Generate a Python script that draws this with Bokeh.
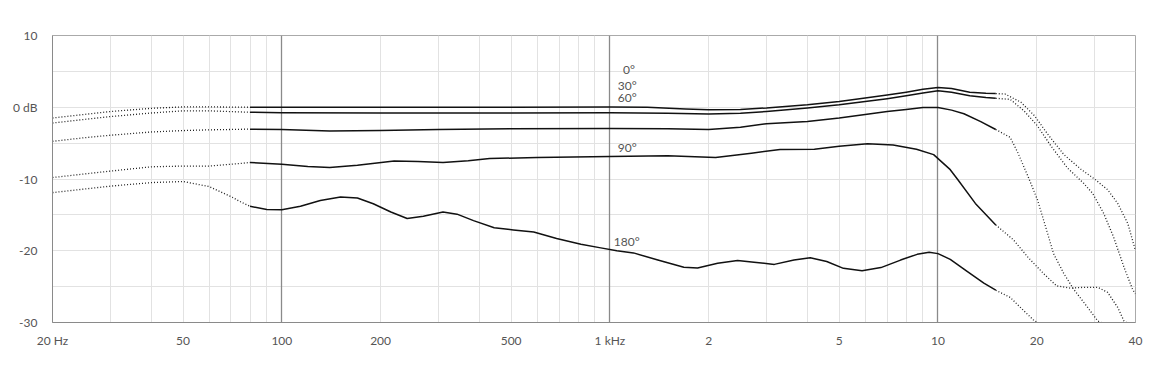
import json
from bokeh.plotting import figure
from bokeh.models import Range1d, FixedTicker, CustomJSTickFormatter, Grid
from bokeh.core.properties import value
from bokeh.embed import file_html
from bokeh.resources import INLINE

# ---------------- data ----------------
x_ticks = [20, 50, 100, 200, 500, 1000, 2000, 5000, 10000, 20000, 40000]
x_tick_labels = ["20 Hz", "50", "100", "200", "500", "1 kHz", "2", "5", "10", "20", "40"]
y_ticks = [-30, -20, -10, 0, 10]
y_tick_labels = ["-30", "-20", "-10", "0 dB", "10"]

minor_x = [30, 40, 50, 60, 70, 80, 90, 200, 300, 400, 500, 600, 700, 800, 900,
           2000, 3000, 4000, 5000, 6000, 7000, 8000, 9000, 20000, 30000]
major_x = [100, 1000, 10000]
minor_y = [-25, -20, -15, -10, -5, 0, 5]

solid_low = 80      # measured (solid) range, Hz
solid_high = 15000

f_0 = [20, 25, 30, 40, 50, 60, 80, 100, 200, 500, 1000, 1300, 1700, 2000, 2500, 3000,
       4000, 5000, 6000, 7000, 8000, 9000, 10000, 11000, 12500, 14000, 15000, 16000,
       17900, 19700, 21600, 24200, 27200, 30000, 32900, 35300, 37900, 40000]
db_0 = [-1.5, -1.0, -0.6, -0.15, 0.05, 0.05, 0.0, 0.0, 0.0, 0.0, 0.05, 0.0, -0.25, -0.35,
        -0.3, -0.1, 0.35, 0.8, 1.3, 1.7, 2.1, 2.5, 2.75, 2.6, 2.1, 1.95, 1.9, 1.85,
        0.7, -1.2, -3.75, -6.6, -8.6, -10.0, -11.5, -13.4, -16.2, -20.0]

f_30 = [20, 25, 30, 40, 50, 60, 80, 100, 200, 500, 1000, 1500, 2000, 2500, 3000, 4000,
        5000, 6000, 7000, 8000, 9000, 10000, 11000, 12500, 14000, 15000, 16600, 18300,
        20100, 22100, 24800, 27800, 29600, 32000, 34300, 36900, 39200, 40000]
db_30 = [-2.2, -1.7, -1.3, -0.8, -0.5, -0.5, -0.7, -0.75, -0.8, -0.8, -0.75, -0.85, -0.95,
         -0.85, -0.6, -0.1, 0.35, 0.8, 1.2, 1.6, 2.0, 2.3, 2.1, 1.6, 1.35, 1.25, 1.1, -0.5,
         -2.6, -5.4, -8.45, -10.6, -12.0, -14.8, -18.1, -22.3, -25.4, -26.0]

f_60 = [20, 25, 30, 40, 50, 60, 80, 100, 140, 200, 300, 500, 1000, 1500, 2000, 2500, 3000,
        4000, 5000, 6000, 7000, 8000, 9000, 10000, 11000, 12000, 13500, 15000, 16600, 17500,
        18800, 20100, 21300, 22500, 24200, 25900, 28600, 30700, 31500]
db_60 = [-4.75, -4.25, -3.9, -3.45, -3.25, -3.15, -3.05, -3.1, -3.3, -3.25, -3.1, -3.0,
         -2.95, -3.0, -3.1, -2.8, -2.3, -2.0, -1.5, -1.0, -0.6, -0.3, -0.05, -0.05, -0.4,
         -0.9, -2.0, -3.1, -4.2, -6.3, -9.6, -12.9, -16.7, -20.4, -23.2, -25.35, -27.9,
         -29.8, -30.0]

f_90 = [20, 25, 30, 40, 50, 60, 70, 80, 100, 120, 140, 170, 220, 260, 310, 370, 430, 600,
        1000, 1500, 2100, 2700, 3300, 4200, 5000, 6100, 7300, 8600, 9700, 10900, 11500,
        13000, 15000, 17000, 18800, 21000, 23000, 25300, 27800, 30700, 32900, 35300,
        36900, 37500]
db_90 = [-9.8, -9.3, -8.9, -8.3, -8.2, -8.2, -7.95, -7.7, -7.95, -8.25, -8.4, -8.1, -7.5,
         -7.55, -7.7, -7.45, -7.15, -7.0, -6.85, -6.75, -7.0, -6.4, -5.9, -5.85, -5.45,
         -5.1, -5.25, -5.85, -6.6, -8.7, -10.1, -13.4, -16.4, -18.5, -20.9, -23.2, -24.9,
         -25.2, -25.1, -25.1, -25.8, -27.9, -29.8, -30.0]

f_180 = [20, 25, 30, 40, 50, 60, 70, 75, 80, 90, 100, 114, 131, 151, 170, 190, 215, 241,
         270, 310, 342, 384, 444, 508, 586, 688, 816, 938, 1050, 1180, 1400, 1680, 1850,
         2130, 2450, 2750, 3170, 3640, 4080, 4580, 5150, 5870, 6700, 7690, 8640, 9400,
         10000, 10900, 12300, 13800, 15000, 16600, 18300, 19700, 20200]
db_180 = [-11.9, -11.4, -11.0, -10.5, -10.35, -11.05, -12.45, -13.2, -13.8, -14.25, -14.3,
          -13.8, -13.0, -12.5, -12.65, -13.45, -14.6, -15.5, -15.2, -14.6, -14.9, -15.8,
          -16.8, -17.1, -17.4, -18.3, -19.1, -19.6, -20.0, -20.3, -21.3, -22.3, -22.4,
          -21.75, -21.35, -21.6, -21.9, -21.3, -20.97, -21.5, -22.45, -22.8, -22.35, -21.3,
          -20.5, -20.2, -20.4, -21.2, -22.9, -24.5, -25.5, -26.5, -28.4, -29.8, -30.0]

curve_names = ["0°", "30°", "60°", "90°", "180°"]
curves = [(f_0, db_0), (f_30, db_30), (f_60, db_60), (f_90, db_90), (f_180, db_180)]

# label anchors (layout, not data)
label_x = [1096, 1057, 1057, 1057, 1028]
label_y = [5.2, 3.1, 1.3, -5.65, -18.75]

# ---------------- figure ----------------
FONT = "Lato"
TXT = "#555555"

p = figure(width=1151, height=358, x_axis_type="log",
           x_range=Range1d(20, 40000), y_range=Range1d(-30, 10),
           output_backend="svg", toolbar_location=None,
           min_border_left=52, min_border_right=16, min_border_top=35, min_border_bottom=36)
p.background_fill_color = "white"
p.border_fill_color = "white"
p.outline_line_color = "#aaaaaa"
p.outline_line_width = 1

# grids
p.xgrid.ticker = FixedTicker(ticks=minor_x)
p.xgrid.grid_line_color = "#e2e2e2"
p.xgrid.grid_line_width = 1
p.ygrid.ticker = FixedTicker(ticks=minor_y)
p.ygrid.grid_line_color = "#e2e2e2"
p.ygrid.grid_line_width = 1
major_grid = Grid(dimension=0, ticker=FixedTicker(ticks=major_x),
                  grid_line_color="#8a8a8a", grid_line_width=1.3)
p.add_layout(major_grid)

# axes
xmap = {str(k): v for k, v in zip(x_ticks, x_tick_labels)}
ymap = {str(k): v for k, v in zip(y_ticks, y_tick_labels)}
p.xaxis.ticker = FixedTicker(ticks=x_ticks)
p.xaxis.formatter = CustomJSTickFormatter(
    code="const m = %s; const k = String(Math.round(tick)); return (k in m) ? m[k] : '';" % json.dumps(xmap))
p.yaxis.ticker = FixedTicker(ticks=y_ticks)
p.yaxis.formatter = CustomJSTickFormatter(
    code="const m = %s; const k = String(Math.round(tick)); return (k in m) ? m[k] : '';" % json.dumps(ymap))
for ax in (p.xaxis, p.yaxis):
    ax.axis_line_color = "#8a8a8a"
    ax.major_tick_line_color = None
    ax.minor_tick_line_color = None
    ax.major_label_text_font = FONT
    ax.major_label_text_font_size = "12px"
    ax.major_label_text_color = TXT
p.xaxis.major_label_standoff = 4
p.yaxis.major_label_standoff = 9

# curves
for f, d in curves:
    lo = [(a, b) for a, b in zip(f, d) if a <= solid_low]
    mid = [(a, b) for a, b in zip(f, d) if solid_low <= a <= solid_high]
    hi = [(a, b) for a, b in zip(f, d) if a >= solid_high]
    for seg in (lo, hi):
        if len(seg) > 1:
            p.line([a for a, _ in seg], [b for _, b in seg], line_color="#222222",
                   line_width=1.3, line_dash="1 2")
    p.line([a for a, _ in mid], [b for _, b in mid], line_color="#111111",
           line_width=1.5, line_join="round")

p.text(x=label_x, y=label_y, text=curve_names, text_font=value(FONT),
       text_font_size="12px", text_color=TXT, text_baseline="middle", text_align="left")

open("out.html", "w").write(file_html(p, INLINE))
